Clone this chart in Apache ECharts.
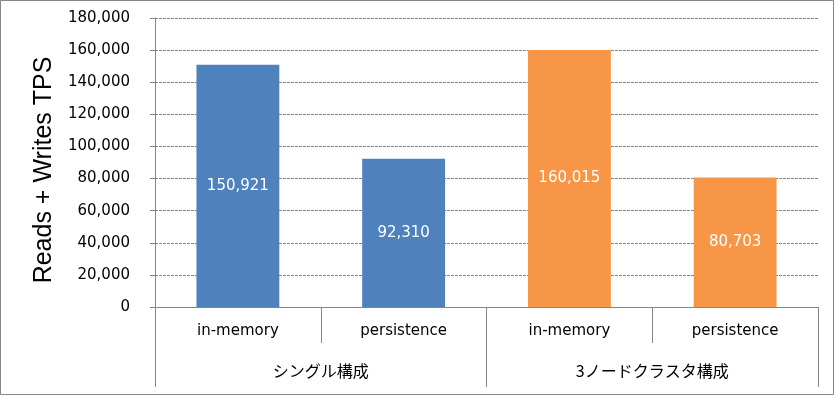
<!DOCTYPE html>
<html>
<head>
<meta charset="utf-8">
<script src="https://cdn.jsdelivr.net/npm/echarts@6/dist/echarts.min.js"></script>
<style>
html,body{margin:0;padding:0;background:#fff;}
#chart{width:834px;height:395px;}
</style>
</head>
<body>
<div id="chart"></div>
<script>
var categories = ['in-memory', 'persistence', 'in-memory', 'persistence'];
var groups = ['シングル構成', '3ノードクラスタ構成'];
var values = [150921, 92310, 160015, 80703];
var yTicks = [0, 20000, 40000, 60000, 80000, 100000, 120000, 140000, 160000, 180000];
var yAxisName = 'Reads + Writes TPS';

var barColors = ['#4F81BD', '#4F81BD', '#F79646', '#F79646'];
var lineColor = '#868686';
function fmt(v) { return Number(v).toLocaleString('en-US'); }

var chart = echarts.init(document.getElementById('chart'));
chart.setOption({
  animation: false,
  backgroundColor: '#fff',
  textStyle: { fontFamily: 'DejaVu Sans' },
  graphic: [{
    type: 'rect', silent: true,
    shape: { x: 0.5, y: 0.5, width: 833, height: 394 },
    style: { fill: 'none', stroke: lineColor, lineWidth: 1 }
  }],
  grid: { left: 155, right: 16, top: 18, bottom: 88, containLabel: false },
  xAxis: [{
    type: 'category',
    data: categories,
    position: 'bottom',
    axisLine: { show: true, lineStyle: { color: lineColor, width: 1 } },
    axisTick: { show: true, length: 36, lineStyle: { color: lineColor } },
    axisLabel: { color: '#000', fontSize: 15, margin: 17, fontFamily: 'DejaVu Sans' }
  }, {
    type: 'category',
    data: groups,
    position: 'bottom',
    axisLine: { show: false },
    axisTick: { show: true, length: 80, lineStyle: { color: lineColor } },
    axisLabel: { color: '#000', fontSize: 16, margin: 56, fontFamily: 'Noto Sans CJK JP' }
  }],
  yAxis: {
    type: 'value',
    min: yTicks[0],
    max: yTicks[yTicks.length - 1],
    interval: yTicks[1] - yTicks[0],
    name: yAxisName,
    nameLocation: 'middle',
    nameRotate: 90,
    nameGap: 98,
    nameTextStyle: { color: '#000', fontSize: 25, fontFamily: 'Liberation Sans', padding: [0, 15, 0, 0] },
    axisLine: { show: true, lineStyle: { color: lineColor, width: 1 } },
    axisTick: { show: true, length: 5, lineStyle: { color: lineColor } },
    axisLabel: { color: '#000', fontSize: 15, margin: 25, formatter: fmt },
    splitLine: { show: true, lineStyle: { color: lineColor, type: [3, 1], width: 1 } }
  },
  series: [{
    type: 'bar',
    xAxisIndex: 0,
    barWidth: '50%',
    data: values.map(function (v, i) { return { value: v, itemStyle: { color: barColors[i] } }; }),
    label: {
      show: true, position: 'inside', color: '#fff', fontSize: 15,
      fontFamily: 'DejaVu Sans',
      formatter: function (p) { return fmt(p.value); }
    }
  }]
});
</script>
</body>
</html>
